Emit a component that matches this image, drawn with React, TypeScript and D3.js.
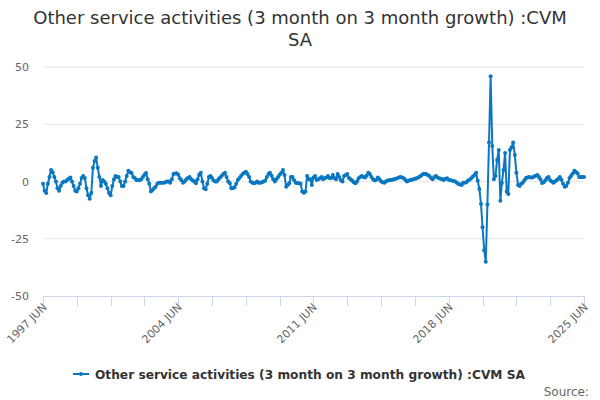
import { useMemo } from 'react'
import * as d3 from 'd3'

// ─── Data ─────────────────────────────────────────────────────────────────────

const START = { year: 1997, month: 5 } // June 1997 (0-based month)

// Monthly values, one row per year starting each June
const growth: number[] = [
  -1, -4, -5, -1, 2, 5, 4, 2, 0, -3, -4, -2,
  -0.5, 0, 0, 0.7, 1.2, 1.8, 0, -2, -4, -4.4, -3, -1,
  1.5, 2.4, 1.5, -3, -6, -7.5, -5, 6, 9, 10.5, 6, 2,
  -2, 0.7, 0, -1, -3, -5, -6, -2, 1, 2.4, 2, 2,
  0, -2, -2, 0, 2.4, 4.7, 4, 3.7, 2, 1.5, 0.7, 0.7,
  0.5, 1, 2, 3, 3.7, 1, -1, -4.4, -3.7, -3, -2.3, -1,
  -0.5, -0.5, -0.5, -0.5, -0.3, 0, 0, -0.5, 1, 3.3, 3.5, 3.6,
  3, 1.4, 0.5, -0.5, 0, 1, 1.5, 2, 1, 0.4, 0, -0.8,
  1, 3, 3.8, 0, -3, -3.4, -1, 2, 2.4, 1.5, 0.4, 0,
  0, 1, 1.8, 2.5, 3.3, 3.8, 2, 0, -0.8, -3, -3, -2.5,
  -1, 0.7, 1.5, 2.4, 3.3, 3.8, 4.3, 3.3, 2, 0, -0.5, -0.8,
  -0.5, 0, -0.5, -0.5, -0.3, 0, 0.4, 2, 3.3, 3.8, 2.5, 1,
  0, 1, 2, 3, 3.8, 5, 2.8, -2.3, -1.5, -0.8, 2, 2,
  0.5, -0.5, -0.8, -0.8, -1, -4.4, -4.9, -4.4, 2.4, 1, 1, -1.5,
  1.8, 2.4, 0.7, 1, 1.4, 2, 1, 1.5, 1.8, 2.4, 1.5, 1.5,
  2.8, 1.5, 1, 3.3, 2, 0.5, 0, 2.4, 2.8, 3.3, 1.5, 1,
  0.4, -0.3, -0.8, 0, 1.4, 2, 2.4, 2, 1.8, 2.5, 3.8, 3.3,
  2, 1, 0.4, 0.8, 1.8, 1, 0, -0.3, -0.5, 0, 0.4, 0.5,
  0.7, 0.8, 1, 1.2, 1.4, 1.7, 2, 1.7, 1.4, 0.8, 0, 0.3,
  0.7, 0.8, 1, 1.2, 1.4, 1.8, 2.2, 2.6, 3.3, 3.3, 3.3, 2.8,
  2.4, 1.5, 1, 2, 2.4, 1.8, 1.4, 1.2, 1, 0.7, 1.2, 1.4,
  0.8, 0.6, 0.4, 0.2, 0, -0.5, -1.1, -1.3, -1.5, -0.5, -0.5, -0.3,
  0.4, 0.8, 1.4, 2.2, 2.8, 3.8, 0.3, -3.3, -9.8, -20, -30, -35,
  -10, 17, 46, 15.5, 1, 2.4, 9.4, 13.8, -8.4, -0.7, 5, 12.4,
  -4.4, -5.5, 13.8, 15, 17, 11.6, 3.8, -1.5, -2, -1, -0.5, 0.5,
  1.5, 1.8, 2, 1.8, 1.8, 2.2, 2.5, 2.8, 2, 1, -0.7, -0.3,
  0.5, 1.5, 2, 0.5, 0, -0.5, 0, 0.5, 1.2, 2, 0.8, -1,
  -2.3, -2, -0.5, 1.5, 2.5, 3.5, 4.7, 4.2, 3.5, 2, 2, 2,
  2,
]

const yTicks = [-50, -25, 0, 25, 50]
const xTickLabels = ['1997 JUN', '2004 JUN', '2011 JUN', '2018 JUN', '2025 JUN']
const TICK_STEP_MONTHS = 21
const LABEL_EVERY = 4

const TITLE_LINES = ['Other service activities (3 month on 3 month growth) :CVM', 'SA']
const SERIES_NAME = 'Other service activities (3 month on 3 month growth) :CVM SA'

// ─── Layout ───────────────────────────────────────────────────────────────────

const W = 600
const H = 400
const PLOT = { left: 43, right: 584, top: 67, bottom: 296 }
const COLOR = '#0a77c1'
const FONT = '"DejaVu Sans", Verdana, sans-serif'

const monthDate = (i: number) => new Date(START.year, START.month + i, 1)

// ─── App ──────────────────────────────────────────────────────────────────────

export default function App() {
  const points = useMemo(() => growth.map((v, i) => ({ date: monthDate(i), v })), [])

  const x = d3.scaleTime()
    .domain([monthDate(0), monthDate(growth.length - 1)])
    .range([PLOT.left, PLOT.right])
  const y = d3.scaleLinear().domain([-50, 50]).range([PLOT.bottom, PLOT.top])

  const line = d3.line<{ date: Date; v: number }>()
    .x((d) => x(d.date))
    .y((d) => y(d.v))

  const nTicks = Math.floor((growth.length - 1) / TICK_STEP_MONTHS)
  const xTicks = d3.range(nTicks + 1).map((k) => monthDate(k * TICK_STEP_MONTHS))

  return (
    <div style={{ position: 'fixed', left: 0, top: 0 }}>
      <svg width={W} height={H} style={{ display: 'block', fontFamily: FONT }}>
        <rect width={W} height={H} fill="#fff" />

        {/* Title */}
        {TITLE_LINES.map((t, i) => (
          <text key={i} x={W / 2} y={24 + i * 22} textAnchor="middle" fontSize={18} fill="#333">
            {t}
          </text>
        ))}

        {/* Grid + y labels */}
        {yTicks.map((t) => (
          <g key={t}>
            {t !== -50 && (
              <line x1={PLOT.left} x2={PLOT.right} y1={y(t)} y2={y(t)} stroke="#e6e6e6" />
            )}
            <text x={29} y={y(t) + 4} textAnchor="end" fontSize={11} fill="#666">{t}</text>
          </g>
        ))}

        {/* X axis */}
        <line x1={PLOT.left} x2={PLOT.right + 1} y1={PLOT.bottom + 0.5} y2={PLOT.bottom + 0.5} stroke="#ccd6eb" />
        {xTicks.map((d, k) => {
          const tx = Math.round(x(d)) + 0.5
          const label = k % LABEL_EVERY === 0 ? xTickLabels[k / LABEL_EVERY] : null
          return (
            <g key={k}>
              <line x1={tx} x2={tx} y1={PLOT.bottom} y2={PLOT.bottom + 10} stroke="#ccd6eb" />
              {label && (
                <text
                  transform={`translate(${tx + 4},${PLOT.bottom + 12}) rotate(-45)`}
                  textAnchor="end"
                  fontSize={11}
                  fill="#666"
                >
                  {label}
                </text>
              )}
            </g>
          )
        })}

        {/* Series */}
        <path d={line(points) ?? ''} fill="none" stroke={COLOR} strokeWidth={2} strokeLinejoin="round" />
        {points.map((p, i) => (
          <circle key={i} cx={x(p.date)} cy={y(p.v)} r={2} fill={COLOR} />
        ))}

        {/* Legend */}
        <line x1={73} x2={89} y1={374} y2={374} stroke={COLOR} strokeWidth={2} />
        <circle cx={81} cy={374} r={2} fill={COLOR} />
        <text x={95} y={378.5} fontSize={12.2} fontWeight="bold" fill="#333">{SERIES_NAME}</text>

        {/* Credits */}
        <text x={589} y={396} textAnchor="end" fontSize={12} fill="#666">Source:</text>
      </svg>
    </div>
  )
}
